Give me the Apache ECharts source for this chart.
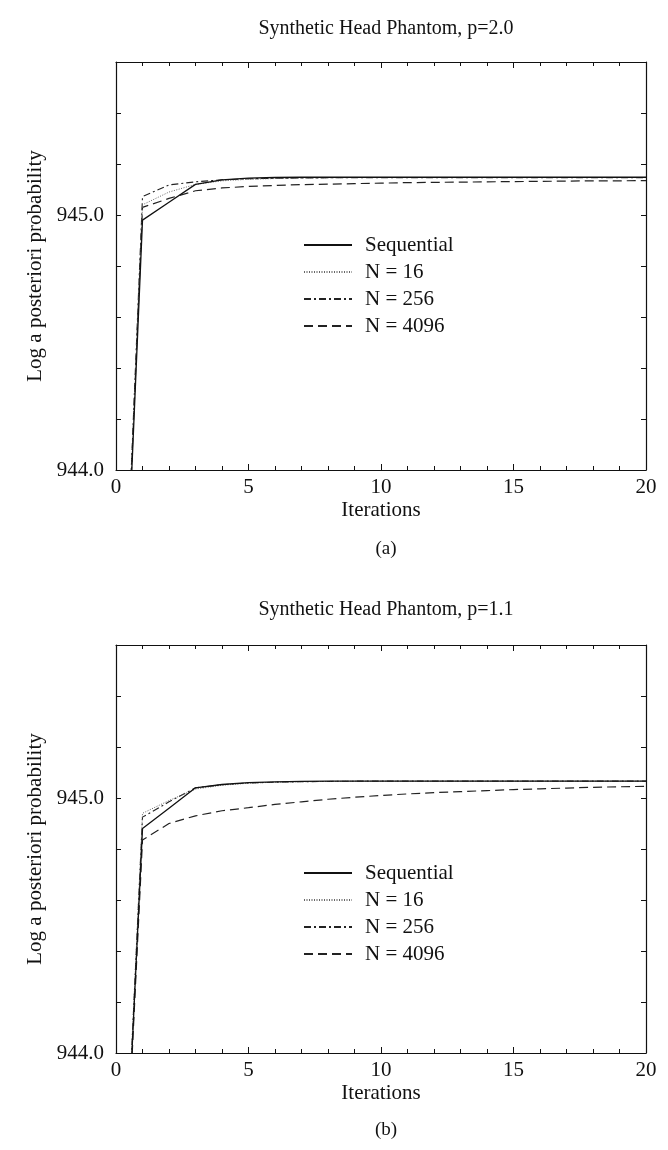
<!DOCTYPE html>
<html>
<head>
<meta charset="utf-8">
<script src="https://cdn.jsdelivr.net/npm/echarts@6/dist/echarts.min.js"></script>
<style>
html,body{margin:0;padding:0;background:#fff;}
#c{width:668px;height:1150px;}
</style>
</head>
<body>
<div id="c"></div>
<script>
var iterations = [0,1,2,3,4,5,6,7,8,9,10,11,12,13,14,15,16,17,18,19,20];
var xTicks = [0,5,10,15,20];
var yTickLabels = [944.0, 945.0];
var seriesNames = ['Sequential','N = 16','N = 256','N = 4096'];
var titles = ['Synthetic Head Phantom, p=2.0','Synthetic Head Phantom, p=1.1'];
var captions = ['(a)','(b)'];

// panel (a) p=2.0
var seqA   = [942.55,944.98,945.05,945.12,945.138,945.145,945.147,945.148,945.148,945.148,945.148,945.148,945.148,945.148,945.148,945.148,945.148,945.148,945.148,945.148,945.148];
var n16A   = [942.55,945.04,945.09,945.12,945.134,945.14,945.143,945.145,945.146,945.147,945.147,945.147,945.147,945.147,945.147,945.147,945.147,945.147,945.147,945.147,945.147];
var n256A  = [942.55,945.072,945.118,945.13,945.138,945.142,945.144,945.145,945.146,945.146,945.146,945.146,945.146,945.146,945.146,945.146,945.146,945.146,945.146,945.146,945.146];
var n4096A = [942.55,945.03,945.065,945.095,945.106,945.112,945.116,945.119,945.121,945.123,945.125,945.127,945.128,945.129,945.130,945.131,945.132,945.133,945.134,945.134,945.135];

// panel (b) p=1.1
var seqB   = [942.68,944.88,944.96,945.04,945.053,945.06,945.063,945.065,945.066,945.066,945.066,945.066,945.066,945.066,945.066,945.066,945.066,945.066,945.066,945.066,945.066];
var n16B   = [942.68,944.94,944.99,945.035,945.05,945.058,945.062,945.064,945.065,945.066,945.066,945.066,945.066,945.066,945.066,945.066,945.066,945.066,945.066,945.066,945.066];
var n256B  = [942.68,944.925,944.985,945.04,945.052,945.059,945.062,945.064,945.065,945.066,945.066,945.066,945.066,945.066,945.066,945.066,945.066,945.066,945.066,945.066,945.066];
var n4096B = [942.68,944.835,944.90,944.93,944.95,944.962,944.975,944.985,944.995,945.003,945.01,945.016,945.021,945.025,945.029,945.033,945.036,945.039,945.042,945.044,945.046];

var FONT = "'Liberation Serif','Times New Roman',serif";
var INK = '#111';

function pairs(vals){ return iterations.map(function(x,i){ return [x, vals[i]]; }); }

var styles = [
  {color:'#111', width:1.3, type:'solid'},
  {color:'#666', width:1.0, type:[1,1.5]},
  {color:'#222', width:1.1, type:[7,3,2,3]},
  {color:'#222', width:1.2, type:[9,5]}
];

var grids = [
  {left:116, right:22, top:62, height:408},
  {left:116, right:22, top:645, height:408}
];

var xAxes = [], yAxes = [];
grids.forEach(function(g, gi){
  var base = {
    type:'value', gridIndex:gi, min:0, max:20, interval:5,
    axisLine:{show:true, onZero:false, lineStyle:{color:INK, width:1.2}},
    axisTick:{show:true, inside:true, length:6, lineStyle:{color:INK}},
    minorTick:{show:true, splitNumber:5, length:4, lineStyle:{color:INK}},
    splitLine:{show:false}
  };
  xAxes.push(Object.assign({}, base, {
    position:'bottom',
    axisLabel:{show:true, color:INK, fontFamily:FONT, fontSize:21, margin:7,
      formatter:function(v){ return xTicks.indexOf(v) >= 0 ? String(v) : ''; }},
    name:'Iterations', nameLocation:'middle', nameGap:30,
    nameTextStyle:{color:INK, fontFamily:FONT, fontSize:21}
  }));
  xAxes.push(Object.assign({}, base, {position:'top', axisLabel:{show:false}}));
  var ybase = {
    type:'value', gridIndex:gi, min:944, max:945.6, interval:0.2,
    axisLine:{show:true, onZero:false, lineStyle:{color:INK, width:1.2}},
    axisTick:{show:true, inside:true, length:5, lineStyle:{color:INK}},
    splitLine:{show:false}
  };
  yAxes.push(Object.assign({}, ybase, {
    position:'left',
    axisLabel:{show:true, color:INK, fontFamily:FONT, fontSize:21, margin:12,
      formatter:function(v){
        for (var k=0;k<yTickLabels.length;k++){ if (Math.abs(v-yTickLabels[k])<1e-6) return yTickLabels[k].toFixed(1); }
        return '';
      }},
    name:'Log a posteriori probability', nameLocation:'middle', nameGap:60,
    nameTextStyle:{color:INK, fontFamily:FONT, fontSize:21}
  }));
  yAxes.push(Object.assign({}, ybase, {position:'right', axisLabel:{show:false}}));
});

var panels = [[seqA,n16A,n256A,n4096A],[seqB,n16B,n256B,n4096B]];
var series = [];
panels.forEach(function(p, gi){
  p.forEach(function(vals, si){
    series.push({
      name:seriesNames[si], type:'line', xAxisIndex:gi*2, yAxisIndex:gi*2,
      data:pairs(vals), showSymbol:false, symbol:'none', smooth:false, clip:true,
      animation:false, z: 10 - si,
      lineStyle:{color:styles[si].color, width:styles[si].width, type:styles[si].type},
      itemStyle:{color:styles[si].color}
    });
  });
});

var legendTops = [229, 857];
var legends = legendTops.map(function(t){
  return {
    orient:'vertical', left:298, top:t, data:seriesNames, selectedMode:false,
    itemWidth:48, itemHeight:14, itemGap:5,
    itemStyle:{color:'rgba(0,0,0,0)', borderColor:'rgba(0,0,0,0)', borderWidth:0, opacity:0},
    textStyle:{color:INK, fontFamily:FONT, fontSize:21, lineHeight:22, padding:[0,0,0,8]}
  };
});

var titleOpts = [
  {text:titles[0], left:381, top:14, textAlign:'center', textStyle:{color:INK, fontFamily:FONT, fontSize:20, fontWeight:'normal'}},
  {text:titles[1], left:381, top:595, textAlign:'center', textStyle:{color:INK, fontFamily:FONT, fontSize:20, fontWeight:'normal'}},
  {text:captions[0], left:381, top:535, textAlign:'center', textStyle:{color:INK, fontFamily:FONT, fontSize:19, fontWeight:'normal'}},
  {text:captions[1], left:381, top:1116, textAlign:'center', textStyle:{color:INK, fontFamily:FONT, fontSize:19, fontWeight:'normal'}}
];

var chart = echarts.init(document.getElementById('c'), null, {renderer:'canvas'});
chart.setOption({
  backgroundColor:'#fff',
  animation:false,
  title:titleOpts,
  legend:legends,
  grid:grids,
  xAxis:xAxes,
  yAxis:yAxes,
  series:series
});
</script>
</body>
</html>
